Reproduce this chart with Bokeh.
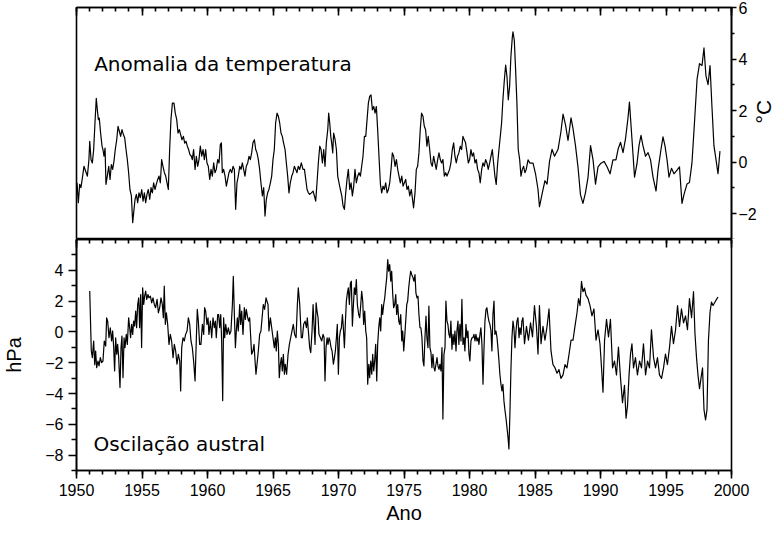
import numpy as np
from bokeh.plotting import figure
from bokeh.models import Range1d, LinearAxis, FixedTicker, Label
from bokeh.layouts import column
from bokeh.embed import file_html
from bokeh.resources import INLINE

# ---------------- data ----------------
# temperature anomaly (°C): (decimal year, value)
temp_points = [
    (1950.04, -0.80), (1950.14, -1.57), (1950.24, -0.86), (1950.34, -0.99), (1950.45, -0.61),
    (1950.57, -0.16), (1950.70, -0.35), (1950.83, -0.54), (1950.95, 0.10), (1951.01, 0.81),
    (1951.11, 0.10), (1951.21, -0.03), (1951.31, 0.49), (1951.41, 1.52), (1951.51, 2.48),
    (1951.59, 2.03), (1951.67, 1.65), (1951.74, 1.71), (1951.84, 1.13), (1951.95, 0.62),
    (1952.02, 0.49), (1952.10, 0.23), (1952.18, 0.55), (1952.25, -0.86), (1952.35, -0.54),
    (1952.46, -0.16), (1952.56, -0.67), (1952.66, -0.09), (1952.76, -0.28), (1952.86, 0.04),
    (1952.96, 0.49), (1953.07, 0.87), (1953.17, 1.39), (1953.27, 1.20), (1953.37, 1.00),
    (1953.47, 1.26), (1953.58, 1.07), (1953.68, 0.94), (1953.78, 0.49), (1953.88, 0.10),
    (1953.98, -0.41), (1954.08, -1.06), (1954.19, -1.31), (1954.29, -2.35), (1954.39, -1.83),
    (1954.47, -1.44), (1954.57, -1.25), (1954.67, -1.57), (1954.77, -1.19), (1954.87, -1.38),
    (1954.98, -1.06), (1955.08, -1.51), (1955.18, -1.19), (1955.28, -1.57), (1955.38, -1.25),
    (1955.48, -1.06), (1955.59, -1.44), (1955.69, -0.99), (1955.79, -1.19), (1955.89, -0.80),
    (1955.99, -1.06), (1956.09, -0.86), (1956.20, -0.67), (1956.30, -0.54), (1956.40, -0.80),
    (1956.50, 0.10), (1956.60, -0.16), (1956.71, -0.41), (1956.81, -0.54), (1956.91, -0.80),
    (1957.01, -1.06), (1957.11, 0.49), (1957.21, 1.65), (1957.32, 2.29), (1957.44, 2.29),
    (1957.54, 1.90), (1957.65, 1.65), (1957.75, 1.13), (1957.85, 1.26), (1957.95, 1.07),
    (1958.05, 0.87), (1958.16, 1.00), (1958.26, 0.74), (1958.36, 0.81), (1958.46, 0.62),
    (1958.56, 0.49), (1958.66, 0.29), (1958.77, 0.23), (1958.84, 0.10), (1958.94, 0.49),
    (1959.05, -0.28), (1959.15, 0.23), (1959.25, -0.16), (1959.35, 0.10), (1959.45, 0.62),
    (1959.56, 0.23), (1959.66, 0.49), (1959.76, 0.10), (1959.86, 0.49), (1959.96, -0.03),
    (1960.06, -0.16), (1960.17, -0.67), (1960.27, -0.28), (1960.37, -0.54), (1960.47, -0.03),
    (1960.57, -0.41), (1960.67, -0.28), (1960.78, 0.10), (1960.88, -0.03), (1960.98, 0.68),
    (1961.06, 0.75), (1961.13, -0.41), (1961.23, -0.28), (1961.34, -0.54), (1961.44, -0.93),
    (1961.54, -0.67), (1961.64, -0.41), (1961.74, -0.28), (1961.85, -0.41), (1961.95, -0.16),
    (1962.05, -0.28), (1962.15, -1.83), (1962.25, -0.80), (1962.35, -0.54), (1962.46, -0.16),
    (1962.56, -0.28), (1962.66, -0.03), (1962.76, -0.28), (1962.86, -0.54), (1962.96, -0.16),
    (1963.07, -0.03), (1963.17, 0.23), (1963.27, 0.10), (1963.37, 0.36), (1963.47, 0.75),
    (1963.58, 0.87), (1963.68, 0.49), (1963.78, 0.36), (1963.88, 0.10), (1963.98, -0.28),
    (1964.08, -0.80), (1964.19, -1.31), (1964.29, -0.99), (1964.39, -2.09), (1964.49, -1.44),
    (1964.59, -1.19), (1964.69, -1.06), (1964.80, -0.80), (1964.90, -0.54), (1965.00, 0.10),
    (1965.10, 0.49), (1965.20, 1.52), (1965.31, 1.90), (1965.41, 1.78), (1965.51, 1.52),
    (1965.61, 1.13), (1965.71, 1.00), (1965.81, 0.74), (1965.92, 0.49), (1966.02, -0.03),
    (1966.12, -0.54), (1966.22, -1.19), (1966.32, -0.80), (1966.43, -0.54), (1966.53, -0.41),
    (1966.63, -0.16), (1966.73, -0.28), (1966.83, -0.41), (1966.93, -0.16), (1967.04, -0.28),
    (1967.16, -0.03), (1967.29, -0.28), (1967.40, -0.28), (1967.50, -0.67), (1967.60, -1.06),
    (1967.70, -1.19), (1967.80, -1.25), (1967.93, -1.19), (1968.06, -1.12), (1968.16, -1.31),
    (1968.26, -1.51), (1968.36, -0.80), (1968.46, -0.03), (1968.57, 0.62), (1968.67, 0.49),
    (1968.77, -0.03), (1968.87, 0.49), (1968.97, -0.16), (1969.07, 0.75), (1969.18, 1.26),
    (1969.25, 1.90), (1969.33, 1.52), (1969.41, 1.00), (1969.48, 0.75), (1969.56, 0.36),
    (1969.63, 1.13), (1969.74, 0.87), (1969.84, 0.49), (1969.94, -0.54), (1970.04, -0.80),
    (1970.14, -1.06), (1970.25, -1.31), (1970.35, -1.70), (1970.45, -1.83), (1970.55, -1.19),
    (1970.65, -0.67), (1970.75, -0.28), (1970.86, -1.06), (1970.96, -0.80), (1971.06, -1.31),
    (1971.16, -0.93), (1971.26, -0.28), (1971.36, -0.80), (1971.47, -0.54), (1971.57, -0.41),
    (1971.67, -0.54), (1971.77, -0.16), (1971.87, 0.23), (1971.98, 1.00), (1972.08, 1.00),
    (1972.18, 1.65), (1972.28, 2.29), (1972.38, 2.55), (1972.48, 2.61), (1972.59, 2.03),
    (1972.69, 2.16), (1972.79, 1.90), (1972.89, 2.16), (1972.99, 1.26), (1973.09, 0.23),
    (1973.20, -0.86), (1973.30, -1.19), (1973.40, -0.93), (1973.50, -1.06), (1973.60, -0.80),
    (1973.71, -1.19), (1973.81, -1.06), (1973.91, -0.80), (1974.01, -0.28), (1974.11, 0.36),
    (1974.21, 0.23), (1974.32, -0.16), (1974.42, 0.10), (1974.52, -0.28), (1974.62, -0.54),
    (1974.72, -0.80), (1974.83, -0.54), (1974.93, -0.93), (1975.03, -0.80), (1975.13, -0.67),
    (1975.23, -1.06), (1975.33, -0.93), (1975.44, -1.31), (1975.56, -1.06), (1975.73, -1.77),
    (1975.84, -1.19), (1975.94, -0.28), (1976.04, -0.16), (1976.14, 0.36), (1976.24, 1.26),
    (1976.34, 1.90), (1976.45, 1.78), (1976.55, 1.39), (1976.65, 1.26), (1976.75, 0.62),
    (1976.85, 1.00), (1976.96, 0.49), (1977.06, -0.03), (1977.16, -0.16), (1977.26, 0.23),
    (1977.36, -0.03), (1977.46, -0.28), (1977.57, 0.10), (1977.67, 0.36), (1977.77, 0.10),
    (1977.87, -0.03), (1977.97, 0.10), (1978.08, -0.54), (1978.18, -0.41), (1978.28, -0.54),
    (1978.38, -0.41), (1978.48, -0.28), (1978.58, -0.03), (1978.69, 0.49), (1978.79, 0.75),
    (1978.89, 0.23), (1978.99, -0.03), (1979.09, 0.23), (1979.19, 0.36), (1979.30, 0.62),
    (1979.40, 0.49), (1979.50, 1.00), (1979.60, 0.87), (1979.70, 0.75), (1979.81, 0.36),
    (1979.91, -0.03), (1980.01, 0.10), (1980.11, 0.49), (1980.21, 0.23), (1980.31, 0.36),
    (1980.42, -0.03), (1980.52, 0.10), (1980.62, -0.28), (1980.72, -0.41), (1980.82, -0.80),
    (1980.93, -0.28), (1981.03, -0.03), (1981.13, -0.16), (1981.23, 0.10), (1981.33, -0.03),
    (1981.43, -0.28), (1981.54, -0.03), (1981.64, 0.23), (1981.74, 0.49), (1981.84, -0.03),
    (1981.94, -0.54), (1982.04, -0.86), (1982.15, -0.03), (1982.25, 0.49), (1982.35, 1.00),
    (1982.45, 1.52), (1982.55, 2.42), (1982.66, 3.19), (1982.76, 3.77), (1982.86, 3.32),
    (1982.96, 2.42), (1983.06, 2.93), (1983.16, 4.09), (1983.27, 4.86), (1983.32, 5.06),
    (1983.42, 4.73), (1983.52, 3.58), (1983.62, 2.29), (1983.72, 0.49), (1983.83, 0.10),
    (1983.93, -0.54), (1984.03, -0.28), (1984.13, -0.16), (1984.23, -0.41), (1984.33, -0.28),
    (1984.47, 0.09), (1984.62, -0.04), (1984.85, -0.04), (1985.04, -0.45), (1985.23, -1.06),
    (1985.34, -1.73), (1985.53, -1.26), (1985.76, -0.72), (1985.92, -0.85), (1986.11, 0.03),
    (1986.30, 0.50), (1986.49, 0.23), (1986.76, 0.50), (1986.98, 1.18), (1987.14, 1.86),
    (1987.33, 1.45), (1987.52, 0.84), (1987.75, 1.72), (1987.90, 1.31), (1988.09, 0.64),
    (1988.28, -0.18), (1988.47, -1.26), (1988.66, -1.60), (1988.85, -1.19), (1989.05, -0.58),
    (1989.24, 0.64), (1989.43, 0.09), (1989.62, -0.85), (1989.81, -0.18), (1990.04, -0.04),
    (1990.27, 0.03), (1990.50, -0.18), (1990.73, -0.45), (1990.95, 0.09), (1991.18, 0.09),
    (1991.34, 0.50), (1991.53, 0.77), (1991.72, 0.37), (1991.91, 0.91), (1992.10, 1.72),
    (1992.21, 2.33), (1992.40, 0.91), (1992.60, -0.58), (1992.79, -0.04), (1992.94, 0.64),
    (1993.09, 1.04), (1993.24, 0.64), (1993.44, 0.23), (1993.63, 0.37), (1993.82, 0.09),
    (1994.01, -0.58), (1994.24, -1.12), (1994.39, -0.31), (1994.62, 0.50), (1994.77, 0.98),
    (1994.92, 0.64), (1995.08, 0.09), (1995.23, -0.58), (1995.42, -0.24), (1995.61, -0.45),
    (1995.84, -0.31), (1996.03, -0.18), (1996.22, -1.60), (1996.37, -1.26), (1996.60, -0.85),
    (1996.79, -0.79), (1996.98, -0.04), (1997.18, 1.59), (1997.37, 3.21), (1997.56, 3.82),
    (1997.75, 3.75), (1997.90, 4.43), (1998.05, 3.35), (1998.21, 3.01), (1998.36, 3.75),
    (1998.51, 2.13), (1998.66, 0.64), (1998.82, 0.09), (1998.97, -0.45), (1999.12, 0.43),
]

# southern oscillation (hPa): (decimal year, value)
soi_points = [
    (1951.01, 2.65), (1951.13, -1.24), (1951.21, -1.67), (1951.31, -0.59), (1951.39, -2.13),
    (1951.46, -1.24), (1951.54, -2.32), (1951.64, -1.89), (1951.72, -2.21), (1951.82, -1.67),
    (1951.92, -1.99), (1952.02, -1.89), (1952.12, -0.59), (1952.23, -0.92), (1952.30, 0.91),
    (1952.38, 0.70), (1952.48, -0.38), (1952.58, 0.27), (1952.68, -0.59), (1952.76, 0.06),
    (1952.84, -1.02), (1952.91, -2.54), (1952.99, -0.38), (1953.07, -1.45), (1953.14, -0.81),
    (1953.22, -1.67), (1953.32, -3.61), (1953.40, -1.02), (1953.47, -0.27), (1953.55, -2.97),
    (1953.63, -0.38), (1953.70, -1.02), (1953.80, -0.16), (1953.88, -0.81), (1953.98, 0.91),
    (1954.06, 0.27), (1954.13, -0.38), (1954.21, 0.49), (1954.29, -0.16), (1954.36, 0.70),
    (1954.44, 0.38), (1954.52, 1.35), (1954.59, 0.27), (1954.67, 1.78), (1954.75, 2.21),
    (1954.82, 0.27), (1954.90, 2.43), (1954.97, -1.02), (1955.05, 2.86), (1955.13, 1.78),
    (1955.20, 2.32), (1955.28, 2.65), (1955.36, 2.11), (1955.46, 2.43), (1955.53, 2.21),
    (1955.64, 2.32), (1955.74, 1.89), (1955.84, 2.21), (1955.94, 1.78), (1956.04, 1.57),
    (1956.15, 2.11), (1956.25, 1.24), (1956.35, 1.57), (1956.45, 2.21), (1956.55, 1.78),
    (1956.63, 0.92), (1956.70, 2.97), (1956.78, 0.49), (1956.86, 1.24), (1956.96, 0.49),
    (1957.06, -0.81), (1957.16, -0.16), (1957.26, -0.59), (1957.37, -1.67), (1957.47, -0.81),
    (1957.57, -1.24), (1957.67, -2.10), (1957.77, -1.45), (1957.88, -1.89), (1957.95, -3.83),
    (1958.03, -1.02), (1958.13, -0.38), (1958.23, -0.59), (1958.33, -0.16), (1958.44, 0.06),
    (1958.54, 0.92), (1958.64, 0.49), (1958.74, -0.59), (1958.84, -1.02), (1958.94, -1.89),
    (1959.05, -3.18), (1959.15, -0.38), (1959.22, 1.46), (1959.30, 0.70), (1959.40, -0.81),
    (1959.50, -0.81), (1959.61, 0.49), (1959.71, -0.16), (1959.78, 1.57), (1959.86, 1.35),
    (1959.96, 0.49), (1960.04, 0.92), (1960.11, -0.16), (1960.22, 0.70), (1960.32, -0.38),
    (1960.42, 0.92), (1960.52, 0.27), (1960.60, 0.70), (1960.67, -0.38), (1960.78, 1.13),
    (1960.85, 1.13), (1960.93, 0.27), (1961.01, 1.13), (1961.08, -0.59), (1961.16, -4.47),
    (1961.23, 0.92), (1961.31, -0.38), (1961.39, 0.49), (1961.49, -0.16), (1961.59, 0.27),
    (1961.69, -0.16), (1961.79, 0.06), (1961.90, 1.78), (1961.97, 3.61), (1962.05, 1.13),
    (1962.13, -1.02), (1962.20, 0.06), (1962.28, 0.92), (1962.35, 0.06), (1962.46, 1.78),
    (1962.53, 0.49), (1962.61, 1.35), (1962.71, -0.16), (1962.81, 1.57), (1962.89, 0.81),
    (1962.96, 1.46), (1963.07, 0.92), (1963.14, 0.70), (1963.22, 0.92), (1963.30, -0.38),
    (1963.37, -1.45), (1963.47, -1.24), (1963.55, -0.81), (1963.63, -1.89), (1963.70, -2.75),
    (1963.78, -2.10), (1963.88, -1.24), (1963.98, -0.16), (1964.08, 0.06), (1964.19, 1.13),
    (1964.26, 1.78), (1964.36, 1.46), (1964.47, 2.21), (1964.54, 2.00), (1964.62, 1.78),
    (1964.69, 0.06), (1964.80, 0.92), (1964.90, 0.27), (1965.00, -0.38), (1965.10, -1.02),
    (1965.18, -0.38), (1965.25, -1.24), (1965.33, 0.06), (1965.41, -0.81), (1965.48, -2.97),
    (1965.56, -2.10), (1965.64, -1.67), (1965.71, -2.54), (1965.79, -1.45), (1965.87, -2.75),
    (1965.94, -2.10), (1966.04, -2.75), (1966.15, -1.45), (1966.25, -0.81), (1966.35, -0.38),
    (1966.45, 0.06), (1966.55, 0.49), (1966.65, -0.16), (1966.76, -0.38), (1966.86, 1.78),
    (1966.93, 2.86), (1967.04, 1.78), (1967.16, -0.38), (1967.24, -0.38), (1967.34, 0.49),
    (1967.45, 0.70), (1967.55, 0.27), (1967.62, 0.92), (1967.70, 0.06), (1967.80, -1.02),
    (1967.88, -1.35), (1967.98, 0.06), (1968.06, 1.78), (1968.13, 0.49), (1968.21, -0.81),
    (1968.29, 1.89), (1968.36, 1.35), (1968.44, 0.92), (1968.51, -0.16), (1968.62, -0.38),
    (1968.72, -0.59), (1968.82, -0.16), (1968.90, -0.38), (1968.97, -3.18), (1969.05, -1.02),
    (1969.13, -0.38), (1969.20, -0.81), (1969.28, -0.38), (1969.35, -0.59), (1969.43, -1.02),
    (1969.51, -1.24), (1969.61, -2.10), (1969.69, -1.67), (1969.76, -1.24), (1969.84, -0.38),
    (1969.91, 0.49), (1969.99, -2.75), (1970.07, -0.38), (1970.14, 0.06), (1970.22, 0.27),
    (1970.30, 1.13), (1970.37, 0.27), (1970.45, -1.02), (1970.53, 0.70), (1970.60, 2.00),
    (1970.68, 2.54), (1970.75, 2.86), (1970.83, 1.78), (1970.91, 3.18), (1970.98, 3.29),
    (1971.06, 0.38), (1971.14, 1.78), (1971.21, 2.86), (1971.29, 2.43), (1971.36, 3.40),
    (1971.44, 1.78), (1971.54, 1.13), (1971.62, 0.92), (1971.70, 1.78), (1971.77, 2.64),
    (1971.85, 2.00), (1971.92, 0.49), (1972.00, 1.35), (1972.08, 0.06), (1972.15, -0.38),
    (1972.23, -3.40), (1972.31, -2.10), (1972.38, -2.97), (1972.46, -1.89), (1972.54, -2.75),
    (1972.61, -1.45), (1972.69, -2.54), (1972.76, -1.89), (1972.84, -0.81), (1972.92, -3.18),
    (1972.99, -0.81), (1973.07, 0.27), (1973.15, 0.92), (1973.22, 0.06), (1973.30, 1.78),
    (1973.37, 1.13), (1973.45, 1.78), (1973.53, 2.21), (1973.60, 2.86), (1973.68, 3.51),
    (1973.76, 4.70), (1973.83, 3.94), (1973.91, 4.37), (1973.99, 3.29), (1974.06, 3.94),
    (1974.14, 2.43), (1974.21, 1.57), (1974.29, 1.78), (1974.37, 2.43), (1974.44, 1.13),
    (1974.52, 1.78), (1974.60, 0.70), (1974.67, 0.49), (1974.75, 1.13), (1974.83, -0.59),
    (1974.90, 0.06), (1974.98, -1.24), (1975.05, -0.38), (1975.13, 0.70), (1975.21, 1.78),
    (1975.28, 2.00), (1975.36, 2.86), (1975.44, 3.51), (1975.51, 3.94), (1975.59, 3.72),
    (1975.69, 3.51), (1975.76, 3.29), (1975.84, 3.72), (1975.91, 2.54), (1975.99, 2.21),
    (1976.07, 2.32), (1976.14, 1.13), (1976.22, 0.27), (1976.29, 0.27), (1976.37, -0.38),
    (1976.45, -1.89), (1976.52, -2.21), (1976.60, -0.38), (1976.68, 1.03), (1976.75, -0.38),
    (1976.83, -1.02), (1976.90, 1.67), (1976.98, -1.02), (1977.06, -1.35), (1977.13, -2.32),
    (1977.21, -1.45), (1977.29, -2.32), (1977.36, -2.54), (1977.44, -2.10), (1977.52, -1.67),
    (1977.59, -2.21), (1977.67, -2.43), (1977.74, -2.10), (1977.82, -2.54), (1977.90, -1.02),
    (1977.97, -5.66), (1978.05, -1.45), (1978.13, -1.02), (1978.20, 2.00), (1978.28, 0.70),
    (1978.35, 0.49), (1978.43, -0.16), (1978.51, -0.38), (1978.58, 0.70), (1978.66, -1.13),
    (1978.74, -0.16), (1978.81, -0.81), (1978.89, 0.06), (1978.97, -1.24), (1979.04, 0.06),
    (1979.12, 0.70), (1979.19, -0.81), (1979.27, 0.49), (1979.35, -0.59), (1979.42, 2.11),
    (1979.50, -0.81), (1979.58, -0.38), (1979.65, -1.24), (1979.73, 0.49), (1979.81, -0.38),
    (1979.88, 0.06), (1979.96, -1.45), (1980.03, -1.89), (1980.11, -0.59), (1980.19, -0.38),
    (1980.26, -0.38), (1980.34, -0.16), (1980.42, -0.59), (1980.49, -0.16), (1980.57, -0.59),
    (1980.65, -0.38), (1980.72, -0.81), (1980.80, -0.16), (1980.87, 0.27), (1980.95, -0.81),
    (1981.03, -3.40), (1981.10, -1.24), (1981.18, 0.70), (1981.26, 1.46), (1981.33, 1.57),
    (1981.41, 1.03), (1981.48, 0.70), (1981.56, 0.49), (1981.64, 0.06), (1981.71, -1.24),
    (1981.79, 1.13), (1981.87, 2.00), (1981.94, -0.16), (1982.02, 0.06), (1982.10, -0.38),
    (1982.17, -1.02), (1982.25, -1.89), (1982.32, -2.75), (1982.40, -3.40), (1982.48, -3.83),
    (1982.55, -3.40), (1982.63, -4.48), (1982.71, -5.12), (1982.78, -5.56), (1982.86, -6.20),
    (1982.94, -6.85), (1983.01, -7.60), (1983.09, -5.12), (1983.16, -2.54), (1983.24, -0.38),
    (1983.32, 0.70), (1983.39, 0.27), (1983.47, -1.02), (1983.55, 0.06), (1983.62, 0.70),
    (1983.70, 0.92), (1983.78, -0.38), (1983.85, 0.27), (1983.93, -0.16), (1984.00, 0.70),
    (1984.08, 0.92), (1984.20, -0.77), (1984.35, 0.36), (1984.50, -0.54), (1984.66, 0.59),
    (1984.81, -0.32), (1984.96, 1.71), (1985.11, 0.36), (1985.23, -1.44), (1985.34, 1.71),
    (1985.46, -0.77), (1985.61, 0.36), (1985.76, -0.54), (1985.92, 0.36), (1986.07, 1.49),
    (1986.22, -1.22), (1986.37, -2.12), (1986.53, -2.34), (1986.68, -2.68), (1986.83, -2.45),
    (1986.98, -3.02), (1987.14, -2.79), (1987.29, -2.12), (1987.44, -2.34), (1987.60, -1.44),
    (1987.75, -0.54), (1987.90, -0.54), (1988.05, 0.36), (1988.21, 1.26), (1988.32, 2.16),
    (1988.44, 1.71), (1988.55, 3.29), (1988.66, 2.61), (1988.78, 2.84), (1988.89, 2.39),
    (1989.05, 2.16), (1989.20, 1.71), (1989.35, 1.04), (1989.50, 1.49), (1989.66, -0.54),
    (1989.81, 0.14), (1989.96, -0.77), (1990.08, -2.34), (1990.19, -3.92), (1990.31, -0.54),
    (1990.46, 0.81), (1990.61, -0.32), (1990.76, 0.81), (1990.92, -2.34), (1991.07, -1.89),
    (1991.22, -2.79), (1991.37, -0.99), (1991.53, -3.02), (1991.68, -4.59), (1991.83, -3.47),
    (1991.95, -5.60), (1992.06, -4.82), (1992.18, -2.79), (1992.29, -1.44), (1992.40, -0.77),
    (1992.52, -2.34), (1992.67, -1.67), (1992.82, -2.79), (1992.98, -1.89), (1993.13, -2.34),
    (1993.28, -0.77), (1993.44, -2.79), (1993.59, -1.89), (1993.74, -2.34), (1993.89, 0.14),
    (1994.05, -1.67), (1994.20, -2.34), (1994.35, -1.67), (1994.50, -2.79), (1994.66, -3.02),
    (1994.81, -2.34), (1994.96, -1.44), (1995.11, -2.12), (1995.27, -0.99), (1995.42, 0.36),
    (1995.57, -0.77), (1995.73, 0.14), (1995.88, 1.71), (1996.03, 0.36), (1996.18, 1.49),
    (1996.34, 0.59), (1996.49, 1.04), (1996.64, 0.14), (1996.79, 2.16), (1996.95, 0.92),
    (1997.10, 2.61), (1997.21, -0.09), (1997.33, -1.67), (1997.44, -2.79), (1997.56, -3.69),
    (1997.67, -3.02), (1997.79, -2.34), (1997.90, -5.05), (1998.02, -5.72), (1998.13, -5.05),
    (1998.24, -0.54), (1998.36, 1.26), (1998.47, 1.94), (1998.59, 1.71), (1998.74, 1.94),
    (1998.89, 2.16), (1998.97, 2.27),
]

temp_year = [t for t, v in temp_points]
temp_anom = [v for t, v in temp_points]
soi_year = [t for t, v in soi_points]
soi_hpa = [v for t, v in soi_points]

year_ticks = [1950, 1955, 1960, 1965, 1970, 1975, 1980, 1985, 1990, 1995, 2000]
temp_ticks = [-2, 0, 2, 4, 6]
soi_ticks = [-8, -6, -4, -2, 0, 2, 4]

year_minor = list(range(1950, 2001))
temp_minor = [-3, -1, 1, 3, 5]
soi_minor = [-9, -7, -5, -3, -1, 1, 3, 5]

TICK_FONT = "Liberation Sans"
NOTE_FONT = "DejaVu Sans"
LW = 1.6


def style_axis(ax, maj_in, maj_out, min_in, min_out, labels=True):
    ax.axis_line_color = "black"
    ax.axis_line_width = LW
    ax.major_tick_line_color = "black"
    ax.major_tick_line_width = LW
    ax.minor_tick_line_color = "black"
    ax.minor_tick_line_width = LW
    ax.major_tick_in = maj_in
    ax.major_tick_out = maj_out
    ax.minor_tick_in = min_in
    ax.minor_tick_out = min_out
    ax.major_label_text_font = TICK_FONT
    ax.major_label_text_color = "black"
    if labels:
        ax.major_label_text_font_size = "16px"
    else:
        # tick marks only: labels are blanked out
        ax.major_label_overrides = {t: "" for t in year_ticks}
        ax.major_label_text_font_size = "1px"
        ax.major_label_standoff = 0


def style_title(ax, size="20px"):
    ax.axis_label_text_font = TICK_FONT
    ax.axis_label_text_font_size = size
    ax.axis_label_text_font_style = "normal"
    ax.axis_label_text_color = "black"


def base_fig(ylo, yhi, frame_h, **kw):
    p = figure(frame_width=655, frame_height=frame_h,
               x_range=Range1d(1950, 2000), y_range=Range1d(ylo, yhi),
               x_axis_type=None, y_axis_type=None,
               output_backend="svg", toolbar_location=None, **kw)
    p.outline_line_color = "black"
    p.outline_line_width = LW
    p.outline_line_alpha = 1.0
    p.background_fill_color = "white"
    p.border_fill_color = "white"
    return p


# ---------------- top panel: temperature anomaly ----------------
p1 = base_fig(-3, 6, 232, min_border_left=70, min_border_right=46,
              min_border_top=7, min_border_bottom=0)

ax_top = LinearAxis(ticker=FixedTicker(ticks=year_ticks, minor_ticks=year_minor))
style_axis(ax_top, 8, 0, 4, 0, labels=False)
p1.add_layout(ax_top, "above")

ax_r = LinearAxis(ticker=FixedTicker(ticks=temp_ticks, minor_ticks=temp_minor),
                  axis_label="°C")
style_axis(ax_r, 0, 5, 0, 3)
ax_r.major_label_standoff = 2
ax_r.axis_label_standoff = 4
style_title(ax_r, "21px")
if "axis_label_orientation" in ax_r.properties():
    ax_r.axis_label_orientation = np.pi / 2   # read bottom-to-top as in the reference
p1.add_layout(ax_r, "right")

p1.line(temp_year, temp_anom, line_color="black", line_width=1.2, line_join="round")

p1.add_layout(Label(x=1951.35, y=3.8, text="Anomalia da temperatura",
                    text_font=NOTE_FONT, text_font_size="20px",
                    text_color="black", text_baseline="alphabetic"))

# ---------------- bottom panel: southern oscillation ----------------
p2 = base_fig(-9, 6, 231, min_border_left=70, min_border_right=41,
              min_border_top=0, min_border_bottom=58)

ax_t2 = LinearAxis(ticker=FixedTicker(ticks=year_ticks, minor_ticks=year_minor))
style_axis(ax_t2, 8, 0, 4, 0, labels=False)
p2.add_layout(ax_t2, "above")

ax_l = LinearAxis(ticker=FixedTicker(ticks=soi_ticks, minor_ticks=soi_minor),
                  axis_label="hPa")
style_axis(ax_l, 0, 8, 0, 5)
ax_l.major_label_standoff = 5
ax_l.axis_label_standoff = 17
style_title(ax_l)
p2.add_layout(ax_l, "left")

ax_b = LinearAxis(ticker=FixedTicker(ticks=year_ticks, minor_ticks=year_minor),
                  axis_label="Ano")
style_axis(ax_b, 0, 8, 0, 4)
ax_b.major_label_standoff = 5
ax_b.axis_label_standoff = 3
style_title(ax_b)
p2.add_layout(ax_b, "below")

p2.line(soi_year, soi_hpa, line_color="black", line_width=1.2, line_join="round")

p2.add_layout(Label(x=1951.3, y=-7.3, text="Oscilação austral",
                    text_font=NOTE_FONT, text_font_size="20px",
                    text_color="black", text_baseline="alphabetic"))

layout = column(p1, p2, spacing=0)
open("out.html", "w").write(file_html(layout, INLINE))
